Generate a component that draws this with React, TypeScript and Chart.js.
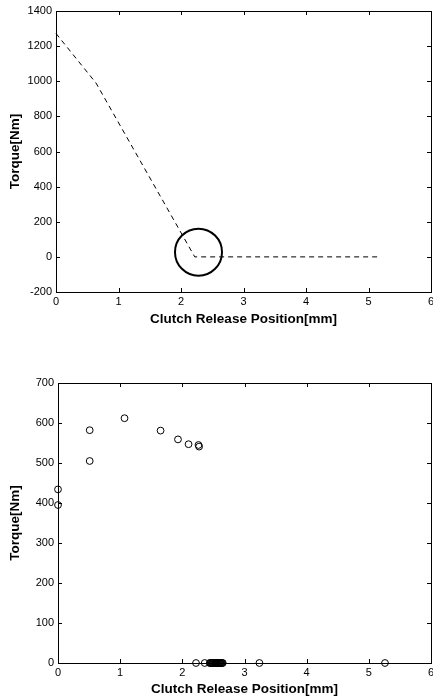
import React, { useEffect, useRef } from 'react';
import { Chart, registerables } from 'chart.js';

Chart.register(...registerables);

// ---- Top chart data ----
const topLineX = [0, 0.64, 2.22, 5.18];
const topLineY = [1272, 990, 0, 0];
const topCircleX = [2.28];
const topCircleY = [27];

// ---- Bottom chart data ----
const botX = [0, 0, 0.51, 0.51, 1.07, 1.65, 1.93, 2.10, 2.26, 2.27, 2.22, 2.36,
  2.44, 2.45, 2.46, 2.47, 2.48, 2.49, 2.50, 2.51, 2.52, 2.53, 2.54, 2.55, 2.56, 2.57, 2.58, 2.59, 2.60, 2.61, 2.62, 2.63, 2.64, 2.65,
  3.24, 5.26];
const botY = [434, 395, 582, 505, 612, 581, 559, 547, 545, 541, 0, 0,
  0, 0, 0, 0, 0, 0, 0, 0, 0, 0, 0, 0, 0, 0, 0, 0, 0, 0, 0, 0, 0, 0,
  0, 0];

const xTicks = [0, 1, 2, 3, 4, 5, 6];
const xTitle = 'Clutch Release Position[mm]';
const yTitle = 'Torque[Nm]';

const FONT = '"Liberation Sans", Arial, sans-serif';

const framePlugin = {
  id: 'frame',
  beforeDatasetsDraw(chart: any) {
    const { ctx, chartArea } = chart;
    const { left, right, top, bottom } = chartArea;
    const x = chart.scales.x;
    const y = chart.scales.y;
    ctx.save();
    ctx.strokeStyle = '#000';
    ctx.lineWidth = 1;
    ctx.strokeRect(Math.round(left) + 0.5, Math.round(top) + 0.5, Math.round(right - left), Math.round(bottom - top));
    const tl = 4;
    ctx.beginPath();
    x.ticks.forEach((_t: any, i: number) => {
      const px = Math.round(x.getPixelForTick(i)) + 0.5;
      ctx.moveTo(px, bottom);
      ctx.lineTo(px, bottom - tl);
      ctx.moveTo(px, top);
      ctx.lineTo(px, top + tl);
    });
    y.ticks.forEach((_t: any, i: number) => {
      const py = Math.round(y.getPixelForTick(i)) + 0.5;
      ctx.moveTo(left, py);
      ctx.lineTo(left + tl, py);
      ctx.moveTo(right, py);
      ctx.lineTo(right - tl, py);
    });
    ctx.stroke();
    ctx.restore();
  },
};

function makeScales(yMin: number, yMax: number, yStep: number, yWidth: number, xHeight: number) {
  return {
    x: {
      type: 'linear' as const,
      min: 0,
      max: 6,
      afterBuildTicks: (s: any) => { s.ticks = xTicks.map((v) => ({ value: v })); },
      afterFit: (s: any) => { s.height = xHeight; s.paddingLeft = 0; s.paddingRight = 0; },
      grid: { display: false, drawTicks: false },
      border: { display: false },
      ticks: { color: '#000', font: { family: FONT, size: 11 }, padding: 3, maxRotation: 0, callback: (v: any) => String(v) },
      title: { display: true, text: xTitle, color: '#000', font: { family: FONT, size: 13.5, weight: 'bold' as const }, padding: { top: 2, bottom: 3 } },
    },
    y: {
      type: 'linear' as const,
      min: yMin,
      max: yMax,
      ticks: { stepSize: yStep, color: '#000', font: { family: FONT, size: 11 }, padding: 4, callback: (v: any) => String(v) },
      afterFit: (s: any) => { s.width = yWidth; s.paddingTop = 0; s.paddingBottom = 0; },
      grid: { display: false, drawTicks: false },
      border: { display: false },
      title: { display: true, text: yTitle, color: '#000', font: { family: FONT, size: 13.5, weight: 'bold' as const }, padding: { top: 7, bottom: 4 } },
    },
  };
}

function TopChart() {
  const ref = useRef<HTMLCanvasElement>(null);
  useEffect(() => {
    if (!ref.current) return;
    const chart = new Chart(ref.current, {
      type: 'scatter',
      data: {
        datasets: [
          {
            data: topLineX.map((x, i) => ({ x, y: topLineY[i] })),
            showLine: true,
            borderColor: '#000',
            borderWidth: 1,
            borderDash: [5, 4],
            pointRadius: 0,
            clip: false,
          },
          {
            data: topCircleX.map((x, i) => ({ x, y: topCircleY[i] })),
            pointRadius: 23.5,
            pointBorderWidth: 2,
            pointBorderColor: '#000',
            pointBackgroundColor: 'rgba(0,0,0,0)',
            clip: false,
          },
        ],
      },
      options: {
        animation: false,
        responsive: false,
        devicePixelRatio: 1,
        layout: { autoPadding: false, padding: { top: 11, right: 2, left: 0, bottom: 0 } },
        plugins: { legend: { display: false }, tooltip: { enabled: false } },
        scales: makeScales(-200, 1400, 200, 56, 38) as any,
      },
      plugins: [framePlugin],
    });
    return () => chart.destroy();
  }, []);
  return <canvas ref={ref} width={433} height={330} />;
}

function BottomChart() {
  const ref = useRef<HTMLCanvasElement>(null);
  useEffect(() => {
    if (!ref.current) return;
    const chart = new Chart(ref.current, {
      type: 'scatter',
      data: {
        datasets: [
          {
            data: botX.map((x, i) => ({ x, y: botY[i] })),
            pointRadius: 3.4,
            pointBorderWidth: 1,
            pointBorderColor: '#000',
            pointBackgroundColor: 'rgba(0,0,0,0)',
            clip: false,
          },
        ],
      },
      options: {
        animation: false,
        responsive: false,
        devicePixelRatio: 1,
        layout: { autoPadding: false, padding: { top: 13, right: 2, left: 0, bottom: 0 } },
        plugins: { legend: { display: false }, tooltip: { enabled: false } },
        scales: makeScales(0, 700, 100, 58, 37) as any,
      },
      plugins: [framePlugin],
    });
    return () => chart.destroy();
  }, []);
  return <canvas ref={ref} width={433} height={330} />;
}

export default function App() {
  return (
    <div style={{ position: 'fixed', left: 0, top: 0, width: 433, height: 700, background: '#fff' }}>
      <div style={{ position: 'absolute', left: 0, top: 0 }}>
        <TopChart />
      </div>
      <div style={{ position: 'absolute', left: 0, top: 370 }}>
        <BottomChart />
      </div>
    </div>
  );
}
